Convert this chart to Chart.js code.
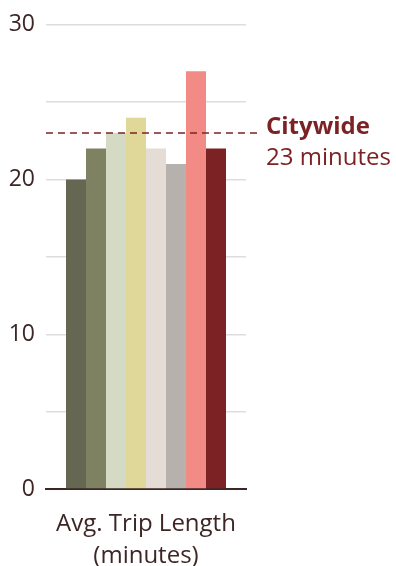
<!DOCTYPE html>
<html>
<head>
<meta charset="utf-8">
<script src="https://cdn.jsdelivr.net/npm/chart.js@4"></script>
<style>
  html, body { margin: 0; padding: 0; background: #fff; }
  #wrap { width: 396px; height: 566px; }
</style>
</head>
<body>
<div id="wrap"><canvas id="chart" width="396" height="566"></canvas></div>
<script>
const categories = [["Avg. Trip Length", "(minutes)"]];
const seriesNames = ["Group 1", "Group 2", "Group 3", "Group 4", "Group 5", "Group 6", "Group 7", "Group 8"];
const seriesValues = [20, 22, 23, 24, 22, 21, 27, 22];
const seriesColors = ["#666753", "#7f8163", "#d5dac4", "#e0d898", "#e5ddd5", "#b7b1ae", "#f28a85", "#7d2224"];
const citywideValue = 23;
const citywideLabel = ["Citywide", "23 minutes"];
const yTickLabels = [0, 10, 20, 30];

const textColor = "#3d2626";
const accent = "#7d2224";
const fontFamily = "'Open Sans', 'Noto Sans', sans-serif";

// dashed citywide line + label on the right
const citywidePlugin = {
  id: "citywide",
  afterDatasetsDraw(chart) {
    const { ctx, chartArea, scales } = chart;
    const y = scales.y.getPixelForValue(citywideValue);
    ctx.save();
    ctx.strokeStyle = accent;
    ctx.lineWidth = 1.5;
    ctx.setLineDash([7, 5]);
    ctx.beginPath();
    ctx.moveTo(chartArea.left, y);
    ctx.lineTo(chartArea.right + 12, y);
    ctx.stroke();
    ctx.setLineDash([]);
    ctx.fillStyle = accent;
    ctx.textBaseline = "alphabetic";
    ctx.font = "bold 24px " + fontFamily;
    ctx.fillText(citywideLabel[0], chartArea.right + 20, y + 1);
    ctx.font = "24px " + fontFamily;
    ctx.fillText(citywideLabel[1], chartArea.right + 20, y + 32);
    ctx.restore();
  }
};

const ctx = document.getElementById("chart").getContext("2d");

new Chart(ctx, {
  type: "bar",
  data: {
    labels: categories,
    datasets: seriesValues.map((v, i) => ({
      label: seriesNames[i],
      data: [v],
      backgroundColor: seriesColors[i],
      borderWidth: 0
    }))
  },
  options: {
    responsive: false,
    animation: false,
    devicePixelRatio: 1,
    datasets: { bar: { categoryPercentage: 0.8, barPercentage: 1 } },
    layout: { padding: { top: 12, right: 150, bottom: 0, left: 0 } },
    plugins: { legend: { display: false }, tooltip: { enabled: false } },
    scales: {
      x: {
        grid: { display: false },
        border: { color: textColor, width: 2 },
        ticks: { color: textColor, font: { family: fontFamily, size: 24, lineHeight: 1.3 }, padding: 12 },
        afterFit(scale) { scale.height = 77; }
      },
      y: {
        min: 0,
        max: 30,
        border: { display: false },
        grid: { color: "#dddddd", lineWidth: 1.5, drawTicks: false },
        ticks: {
          stepSize: 5,
          padding: 11,
          color: textColor,
          font: { family: fontFamily, size: 23 },
          callback: v => yTickLabels.includes(v) ? String(v) : ""
        },
        afterFit(scale) { scale.width = 46; }
      }
    }
  },
  plugins: [citywidePlugin]
});
</script>
</body>
</html>
